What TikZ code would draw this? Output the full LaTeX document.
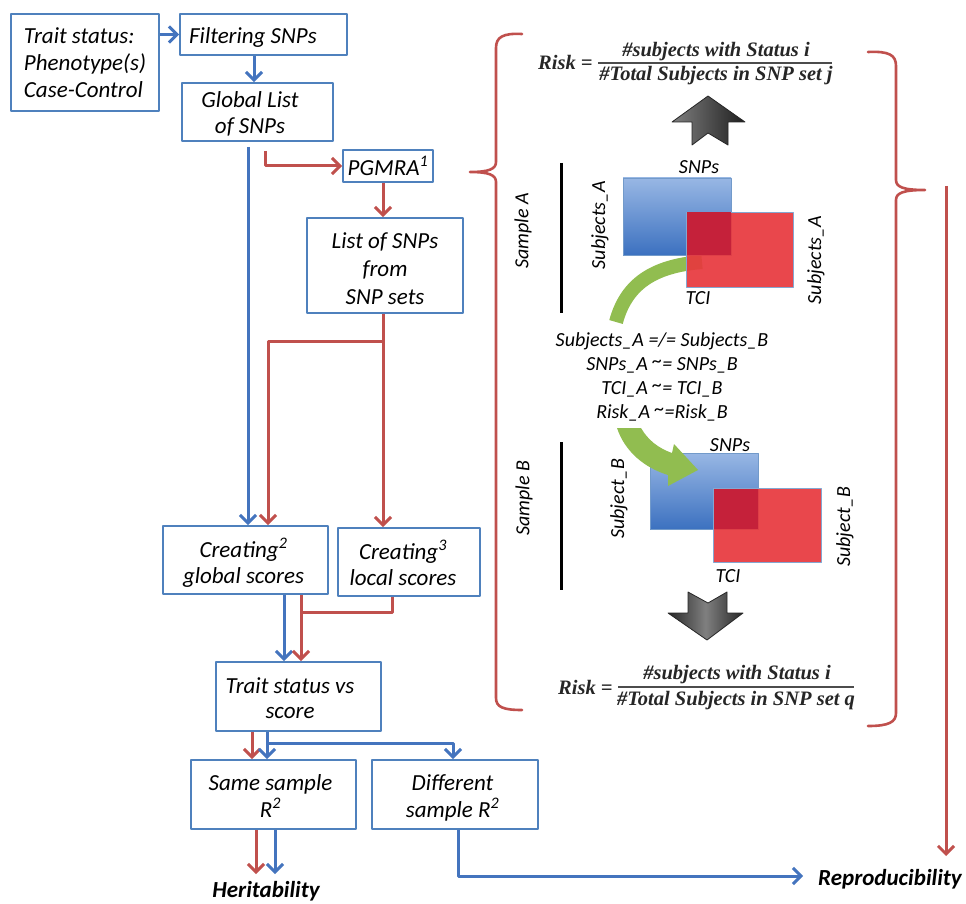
\documentclass[tikz,border=0pt]{standalone}
\usepackage{fontspec}
\setmainfont{Carlito}
\newfontfamily\fracfont{Liberation Serif}
\usetikzlibrary{arrows.meta}
\definecolor{boxblue}{RGB}{79,129,189}
\definecolor{lnblue}{RGB}{68,116,190}
\definecolor{lnred}{RGB}{192,80,77}
\definecolor{grn}{RGB}{145,189,80}
\definecolor{bluetop}{RGB}{152,183,228}
\definecolor{bluebot}{RGB}{60,113,192}
\definecolor{redf}{RGB}{231,57,62}
\definecolor{ovl}{RGB}{197,33,58}
\newcommand\fsz[2]{\fontsize{#1}{#2}\selectfont}
\newcommand\boxtxt[3]{\hspace*{#1}\raisebox{0pt}[\dimexpr\height+#2\relax][\dimexpr\depth-#2\relax]{\begin{tabular}{@{}c@{}}#3\end{tabular}}}
\newcommand\boxtxtl[3]{\hspace*{#1}\raisebox{0pt}[\dimexpr\height+#2\relax][\dimexpr\depth-#2\relax]{\begin{tabular}{@{}l@{}}#3\end{tabular}}}
\newcommand\approxeq{\raisebox{3pt}{\textasciitilde}=}
\begin{document}
\begin{tikzpicture}[x=1pt,y=-1pt,line join=round,
  box/.style={draw=boxblue, line width=1.8pt, fill=white, inner sep=0pt, font=\itshape\fsz{23}{26}},
  barr/.style={draw=lnblue, line width=3pt, -{Straight Barb[length=8pt,width=16pt]}},
  rarr/.style={draw=lnred, line width=3pt, -{Straight Barb[length=8pt,width=16pt]}},
  rline/.style={draw=lnred, line width=3pt},
  lab/.style={font=\itshape\fsz{20}{24}, inner sep=0pt},
  frm/.style={font=\fracfont\bfseries\itshape\fsz{20.5}{24}, inner sep=0pt, text=black!85},
  brace/.style={draw=lnred, line width=2.6pt, line cap=round, line join=round},
  gshape/.style={draw=black!85, line width=0.8pt},
  outcome/.style={font=\bfseries\itshape\fsz{23}{26}, inner sep=0pt}]
\useasboundingbox (0,0) rectangle (966,904);

% ---------- left flow chart ----------
\node[box, font=\itshape\fsz{23}{27}, minimum width=148pt, minimum height=97pt] (trait) at (85,62.5)
  {\boxtxtl{0pt}{3pt}{Trait status:\\Phenotype(s)\\Case-Control}};
\node[box, minimum width=167pt, minimum height=41pt] (filt) at (263.5,34.5) {\boxtxt{-21pt}{4pt}{Filtering SNPs}};
\node[box, minimum width=151pt, minimum height=58pt] (glob) at (257.5,112) {\boxtxt{-15pt}{3.5pt}{Global List\\of SNPs}};
\node[box, minimum width=90pt, minimum height=32pt] (pgmra) at (388,166) {\boxtxt{0pt}{4pt}{PGMRA\textsuperscript{1}}};
\node[box, font=\itshape\fsz{23}{28}, minimum width=156pt, minimum height=95pt] (list) at (385,265.5) {\boxtxt{0pt}{5pt}{List of SNPs\\from\\SNP sets}};
\node[box, minimum width=165pt, minimum height=68pt] (cg) at (245.5,560) {\boxtxt{-4pt}{5pt}{Creating\textsuperscript{2}\\global scores}};
\node[box, minimum width=142pt, minimum height=68pt] (cl) at (409,562) {\boxtxt{-12pt}{5pt}{Creating\textsuperscript{3}\\local scores}};
\node[box, font=\itshape\fsz{23}{25}, minimum width=165pt, minimum height=69pt] (tvs) at (298.5,696.5) {\boxtxt{-17pt}{4pt}{Trait status vs\\score}};
\node[box, minimum width=165pt, minimum height=69pt] (same) at (273.5,794.5) {\boxtxt{-6pt}{4pt}{Same sample\\R\textsuperscript{2}}};
\node[box, minimum width=166pt, minimum height=69pt] (diff) at (455,794.5) {\boxtxt{-5pt}{4pt}{Different\\sample R\textsuperscript{2}}};
\node[outcome, anchor=base] (herit) at (266,897) {Heritability};
\node[outcome, anchor=base west] (repro) at (818,885) {Reproducibility};

\coordinate (c254) at (254,0);
\coordinate (gp0) at (265,151);
\coordinate (gb0) at (248,147);
\coordinate (c383) at (383,0);
\coordinate (split) at (383,341);
\coordinate (c268) at (268,0);
\coordinate (c284) at (284,0);
\coordinate (c301) at (301,0);
\coordinate (c392) at (392,0);
\coordinate (jr) at (301,612);
\coordinate (c252) at (252,0);
\coordinate (c267) at (267,0);
\coordinate (bb) at (267,743);
\coordinate (c453) at (453,0);
\coordinate (c256) at (256,0);
\coordinate (c275) at (275,0);
\coordinate (hend) at (0,874);
\coordinate (c458) at (458,0);
\coordinate (rend) at (803,876);
\coordinate (vtop) at (946,186);
\coordinate (vbot) at (946,856);

\draw[barr] (trait.east |- filt.west) -- (filt.west);
\draw[barr] (filt.south -| c254) -- (glob.north -| c254);
\draw[rarr] (gp0) |- (pgmra.west);
\draw[barr] (gb0) -- (cg.north -| gb0);
\draw[rarr] (pgmra.south -| c383) -- (list.north -| c383);
\draw[rline] (list.south -| split) -- (split);
\draw[rarr] (split) -| (cg.north -| c268);
\draw[rarr] (split) -- (cl.north -| split);
\draw[barr] (cg.south -| c284) -- (tvs.north -| c284);
\draw[rarr] (cg.south -| c301) -- (tvs.north -| c301);
\draw[rline] (cl.south -| c392) |- (jr);
\draw[rarr] (tvs.south -| c252) -- (same.north -| c252);
\draw[barr] (tvs.south -| c267) -- (same.north -| c267);
\draw[barr] (bb) -| (diff.north -| c453);
\draw[rarr] (same.south -| c256) -- (hend -| c256);
\draw[barr] (same.south -| c275) -- (hend -| c275);
\draw[barr] (diff.south -| c458) |- (rend);
\draw[rarr] (vtop) -- (vbot);

% ---------- braces ----------
\draw[brace] (522,34) .. controls (503,33) and (496,37) .. (496,48) -- (496,162)
  .. controls (496,169) and (489,172) .. (470,172)
  .. controls (489,172) and (496,175) .. (496,182) -- (496,698)
  .. controls (496,707) and (503,710) .. (522,710);
\draw[brace] (868,52) .. controls (889,51) and (896,55) .. (896,66) -- (896,180)
  .. controls (896,187) and (903,190) .. (925,190)
  .. controls (903,190) and (896,193) .. (896,200) -- (896,713)
  .. controls (896,722) and (889,726) .. (868,726);

% ---------- formulas ----------
\node[frm, anchor=base west] (riskA) at (538,70) {Risk =};
\node[frm, anchor=base] (numA) at (716,57) {\#subjects with Status i};
\node[frm, anchor=base] (denA) at (716,81) {\#Total Subjects in SNP set j};
\draw[black!70, line width=1.3pt] (598,63) -- (832,63);
\node[frm, anchor=base west] (riskB) at (558,694) {Risk =};
\node[frm, anchor=base] (numB) at (737,679) {\#subjects with Status i};
\node[frm, anchor=base] (denB) at (736,705) {\#Total Subjects in SNP set q};
\draw[black!70, line width=1.3pt] (618,687) -- (854,687);

% ---------- grey arrows ----------
\path[gshape, left color=black!50, right color=black!88]
  (708,96) -- (745,122) -- (728,122) -- (728,145) -- (708,133) -- (692,145) -- (692,122) -- (672,122) -- cycle;
\path[gshape, left color=black!85, right color=black!85, middle color=black!50]
  (688,592) -- (708,603) -- (727,592) -- (727,613) -- (743,613) -- (707,640) -- (668,613) -- (688,613) -- cycle;

% ---------- sample A ----------
\draw[grn, line width=14pt] (616,322) .. controls (626,285) and (652,266) .. (702,262);
\path[draw=boxblue!80, line width=0.8pt, top color=bluetop, bottom color=bluebot] (623,178) rectangle (731,255);
\path[draw=boxblue!70, line width=0.8pt, fill=redf, fill opacity=0.93] (686,212) rectangle (793,287);
\fill[ovl] (686.5,212.5) rectangle (731,255);
\draw[black, line width=3pt] (561,163) -- (561,313);
\node[lab, rotate=90] (sampA) at (523,231) {Sample A};
\node[lab, rotate=90] (subjA1) at (600,225) {Subjects\_A};
\node[lab, rotate=90] (subjA2) at (816,260) {Subjects\_A};
\node[lab] (snpA) at (699,167) {SNPs};
\node[lab] (tciA) at (698,298) {TCI};

% ---------- relations ----------
\node[lab, align=center] (eqs) at (662,377)
  {Subjects\_A =/= Subjects\_B\\SNPs\_A \approxeq{} SNPs\_B\\TCI\_A \approxeq{} TCI\_B\\Risk\_A \approxeq Risk\_B};

% ---------- sample B ----------
\path[draw=boxblue!80, line width=0.8pt, top color=bluetop, bottom color=bluebot] (650,453) rectangle (758,529);
\fill[grn] (617,428) -- (641,428) .. controls (648,440) and (658,448) .. (672,453) -- (674,444) -- (698,470)
  -- (668,486) -- (668,475) .. controls (645,468) and (625,452) .. cycle;
\path[draw=boxblue!70, line width=0.8pt, fill=redf, fill opacity=0.93] (713,488) rectangle (821,562);
\fill[ovl] (713.5,488.5) rectangle (758,529);
\draw[black, line width=3pt] (561,442) -- (561,590);
\node[lab, rotate=90] (sampB) at (524,498) {Sample B};
\node[lab, rotate=90] (subjB1) at (619,499) {Subject\_B};
\node[lab, rotate=90] (subjB2) at (845,527) {Subject\_B};
\node[lab] (snpB) at (730,445) {SNPs};
\node[lab] (tciB) at (728,576) {TCI};
\end{tikzpicture}
\end{document}
